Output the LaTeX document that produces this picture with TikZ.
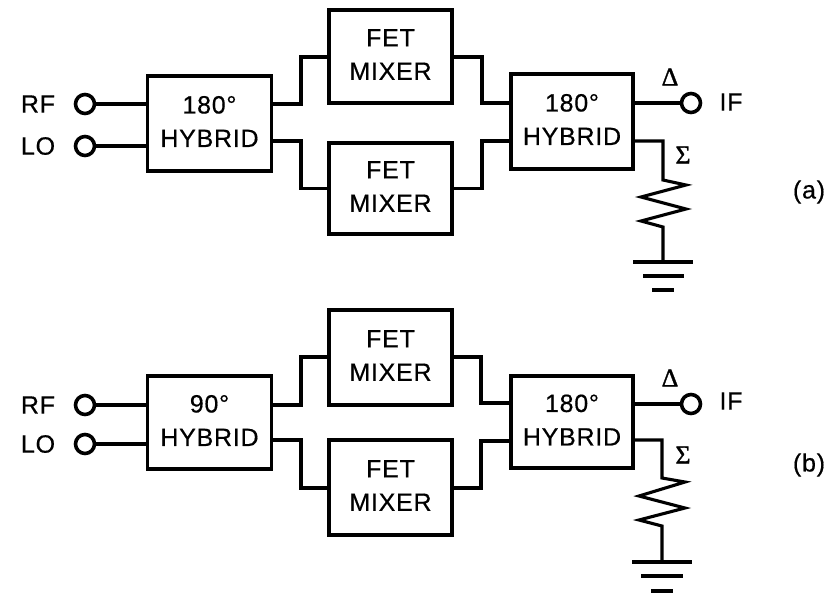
\documentclass[tikz,border=0pt]{standalone}
\usepackage{fontspec}
\setmainfont[LetterSpace=3,FakeBold=0.5]{Liberation Sans}
\newfontfamily\symfont[FakeBold=1.2]{Liberation Serif}
\tikzset{
  wire/.style={line width=3.1pt,line join=miter},
  blockbox/.style={draw,line width=3.3pt,fill=white,inner sep=0pt},
  blocktext/.style={align=center,inner sep=0pt,font=\fontsize{25}{33.5}\selectfont},
  port/.style={draw,circle,line width=3.6pt,fill=white,minimum size=19pt,inner sep=0pt},
  lbl/.style={inner sep=0pt,font=\fontsize{25}{25}\selectfont},
  sym/.style={inner sep=0pt,font=\fontsize{26}{26}\selectfont\symfont}
}
\newcommand{\blk}[6]{\node[blockbox,minimum width=#4pt,minimum height=#5pt] (#1) at (#2,#3) {};
  \node[blocktext] (#1t) at ([yshift=2pt]#1.center) {#6};}
\begin{document}
\begin{tikzpicture}[x=1pt,y=-1pt]
\useasboundingbox (0,0) rectangle (832,595);
% ---------- (a)
\blk{ha}{209.5}{123.5}{124}{95}{180°\\HYBRID}
\blk{mta}{390.5}{56.5}{123}{93}{FET\\MIXER}
\blk{mba}{390.5}{188.5}{123}{91}{FET\\MIXER}
\blk{oa}{572}{121.5}{122}{95}{180°\\HYBRID}
\node[port] (rfa) at (85,104) {};
\node[port] (loa) at (85,146) {};
\node[port] (ifa) at (691,103) {};
\node[lbl] (rfla) at (38,104) {RF};
\node[lbl] (lola) at (38,146) {LO};
\node[lbl] (ifla) at (731,102) {IF};
\node[sym] (da) at (670,77) {Δ};
\node[sym] (sa) at (683,155) {Σ};
\node[lbl] (capa) at (809,192) {(a)};
\draw[wire] (rfa) -- (ha.west |- rfa);
\draw[wire] (loa) -- (ha.west |- loa);
\draw[wire] (ha.east |- rfa) -| (301,57) -- (mta.west |- 0,57);
\draw[wire] (ha.east |- 0,141) -| (301,188.5) -- (mba.west);
\draw[wire] (mta.east |- 0,57) -| (482,103) -- (oa.west |- 0,103);
\draw[wire] (mba.east) -| (482,141) -- (oa.west |- 0,141);
\draw[wire] (oa.east |- ifa) -- (ifa);
\coordinate (gnda) at (663,262);
\draw[wire] (oa.east |- 0,141) -| (663,180) -- (686,185) -- (641,197) -- (686,209) -- (641,221) -- (663,227) -- (gnda);
\draw[wire] (633,262) -- (693,262);
\draw[wire] (643,276) -- (684,276);
\draw[wire] (652,290) -- (674,290);
% ---------- (b)
\blk{hb}{209.5}{422.5}{124}{93}{90°\\HYBRID}
\blk{mtb}{390.5}{357.5}{123}{95}{FET\\MIXER}
\blk{mbb}{390.5}{487.5}{123}{95}{FET\\MIXER}
\blk{ob}{572}{422}{122}{92}{180°\\HYBRID}
\node[port] (rfb) at (85,405) {};
\node[port] (lob) at (85,444) {};
\node[port] (ifb) at (691,404) {};
\node[lbl] (rflb) at (38,405) {RF};
\node[lbl] (lolb) at (38,444) {LO};
\node[lbl] (iflb) at (731,401) {IF};
\node[sym] (db) at (670,378) {Δ};
\node[sym] (sb) at (683,455) {Σ};
\node[lbl] (capb) at (809,465) {(b)};
\draw[wire] (rfb) -- (hb.west |- rfb);
\draw[wire] (lob) -- (hb.west |- lob);
\draw[wire] (hb.east |- rfb) -| (301,357) -- (mtb.west |- 0,357);
\draw[wire] (hb.east |- 0,440) -| (301,488) -- (mbb.west |- 0,488);
\draw[wire] (mtb.east |- 0,357) -| (481,403) -- (ob.west |- 0,403);
\draw[wire] (mbb.east |- 0,488) -| (481,441) -- (ob.west |- 0,441);
\draw[wire] (ob.east |- ifb) -- (ifb);
\coordinate (gndb) at (662,562);
\draw[wire] (ob.east |- 0,440) -| (662,478) -- (685,482) -- (639,496) -- (685,508) -- (639,520) -- (662,526) -- (gndb);
\draw[wire] (632,562) -- (692,562);
\draw[wire] (641,576) -- (683,576);
\draw[wire] (651,591) -- (673,591);
\end{tikzpicture}
\end{document}
